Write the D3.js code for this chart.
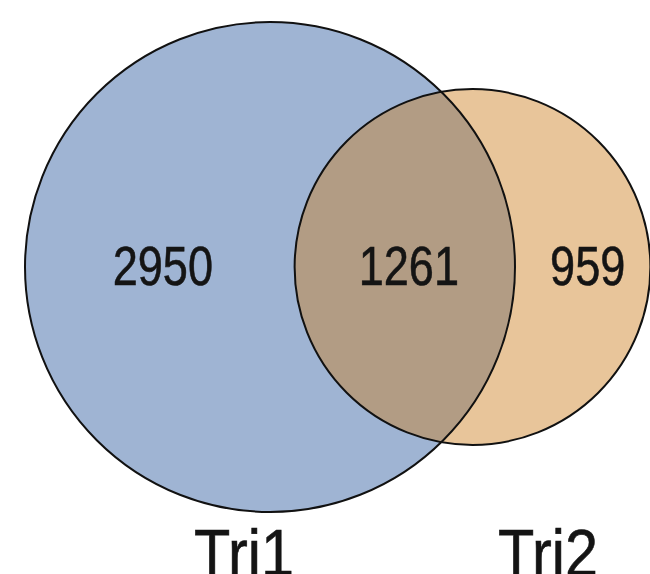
<!DOCTYPE html>
<html>
<head>
<meta charset="utf-8">
<script src="https://cdn.jsdelivr.net/npm/d3@7"></script>
<style>
  body { margin: 0; background: #fff; }
  text { font-family: "Liberation Sans", Arial, sans-serif; fill: #141414; stroke: #141414; stroke-width: 0.6px; }
</style>
</head>
<body>
<svg id="chart" width="650" height="574"></svg>
<script>
var width = 650;
var height = 574;

// set names and region counts
var setNames = ["Tri1", "Tri2"];
var onlyCounts = [2950, 959];
var sharedCount = 1261;
var setColors = ["#9fb4d3", "#e8c59a"];
var sharedColor = "#b29c84";

var svg = d3.select("#chart");

// set sizes (area proportional)
var setSizes = onlyCounts.map(d => d + sharedCount);

var rScale = d3.scaleSqrt().domain([0, setSizes[0]]).range([0, 245]);
var r1 = rScale(setSizes[0]);
var r2 = rScale(setSizes[1]);

// lens area for two circles at distance d
function lensArea(d) {
    if (d >= r1 + r2) return 0;
    if (d <= Math.abs(r1 - r2)) return Math.PI * Math.min(r1, r2) ** 2;
    var a = r1 * r1 * Math.acos((d * d + r1 * r1 - r2 * r2) / (2 * d * r1));
    var b = r2 * r2 * Math.acos((d * d + r2 * r2 - r1 * r1) / (2 * d * r2));
    var c = 0.5 * Math.sqrt((-d + r1 + r2) * (d + r1 - r2) * (d - r1 + r2) * (d + r1 + r2));
    return a + b - c;
}

// find distance so overlap area matches shared count
var target = Math.PI * r1 * r1 * sharedCount / setSizes[0];
var lo = Math.abs(r1 - r2), hi = r1 + r2;
for (var i = 0; i < 60; i++) {
    var mid = (lo + hi) / 2;
    if (lensArea(mid) > target) lo = mid; else hi = mid;
}
var dist = (lo + hi) / 2;

var cy = 267;
var cx1 = 25 + r1;
var cx2 = cx1 + dist;

var circles = [
    { name: setNames[0], cx: cx1, r: r1, color: setColors[0] },
    { name: setNames[1], cx: cx2, r: r2, color: setColors[1] }
];

svg.append("clipPath")
    .attr("id", "clip1")
    .append("circle")
    .attr("cx", cx1)
    .attr("cy", cy)
    .attr("r", r1);

// fills
svg.selectAll("circle.fill")
    .data(circles)
    .enter()
    .append("circle")
    .attr("class", "fill")
    .attr("cx", d => d.cx)
    .attr("cy", cy)
    .attr("r", d => d.r)
    .attr("fill", d => d.color);

// overlap
svg.append("circle")
    .attr("cx", cx2)
    .attr("cy", cy)
    .attr("r", r2)
    .attr("clip-path", "url(#clip1)")
    .attr("fill", sharedColor);

// outlines
svg.selectAll("circle.outline")
    .data(circles)
    .enter()
    .append("circle")
    .attr("class", "outline")
    .attr("cx", d => d.cx)
    .attr("cy", cy)
    .attr("r", d => d.r)
    .attr("fill", "none")
    .attr("stroke", "#111")
    .attr("stroke-width", 2);

// region labels
var left1 = cx1 - r1, right1 = cx1 + r1;
var left2 = cx2 - r2, right2 = cx2 + r2;
var regions = [
    { value: onlyCounts[0], x: (left1 + left2) / 2 + 3 },
    { value: sharedCount, x: (left2 + right1) / 2 + 4 },
    { value: onlyCounts[1], x: (right1 + right2) / 2 + 5 }
];

svg.selectAll("text.count")
    .data(regions)
    .enter()
    .append("text")
    .attr("class", "count")
    .attr("transform", d => "translate(" + d.x + "," + 285 + ") scale(0.82,1)")
    .attr("text-anchor", "middle")
    .style("font-size", "55px")
    .text(d => d.value);

// set names
svg.selectAll("text.name")
    .data(circles)
    .enter()
    .append("text")
    .attr("class", "name")
    .attr("transform", (d, i) => "translate(" + (i === 0 ? 244 : 548) + "," + 576 + ") scale(0.9,1)")
    .attr("text-anchor", "middle")
    .style("font-size", "66px")
    .text(d => d.name);
</script>
</body>
</html>
